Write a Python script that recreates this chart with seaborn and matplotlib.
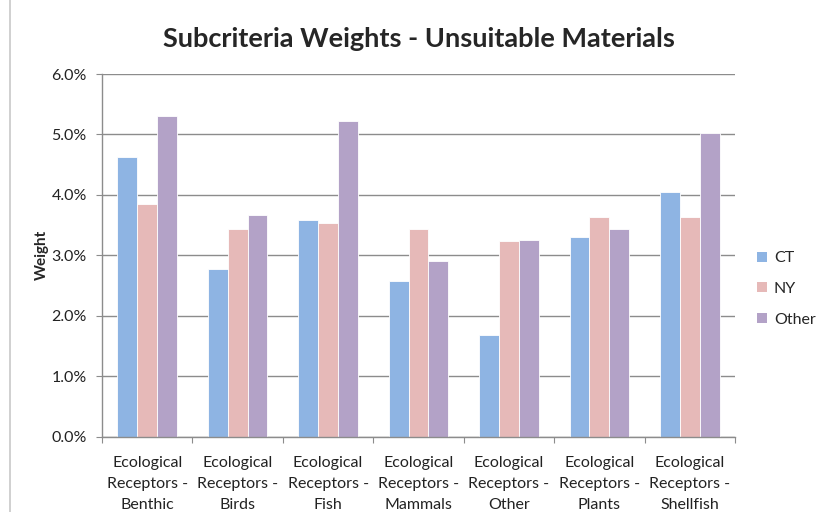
import matplotlib
matplotlib.use("Agg")
import matplotlib.pyplot as plt
from matplotlib.ticker import FuncFormatter, FixedLocator
from matplotlib.patches import Patch
import seaborn as sns
import pandas as pd

categories = [
    "Ecological\nReceptors -\nBenthic",
    "Ecological\nReceptors -\nBirds",
    "Ecological\nReceptors -\nFish",
    "Ecological\nReceptors -\nMammals",
    "Ecological\nReceptors -\nOther",
    "Ecological\nReceptors -\nPlants",
    "Ecological\nReceptors -\nShellfish",
]
series = ["CT", "NY", "Other"]
ct = [4.63, 2.77, 3.59, 2.57, 1.68, 3.31, 4.05]
ny = [3.85, 3.44, 3.54, 3.44, 3.23, 3.64, 3.64]
other = [5.31, 3.67, 5.23, 2.90, 3.26, 3.44, 5.02]
colors = ["#8EB4E3", "#E6B9B8", "#B3A2C7"]

df = pd.DataFrame({
    "category": categories * 3,
    "series": [s for s in series for _ in categories],
    "weight": ct + ny + other,
})

sns.set_style("white")
plt.rcParams["font.family"] = ["Lato", "DejaVu Sans"]

W, H = 816, 512
fig = plt.figure(figsize=(W / 100, H / 100), dpi=100)
ax = fig.add_axes([102 / W, 1 - 436.7 / H, 633 / W, 362.7 / H])

sns.barplot(data=df, x="category", y="weight", hue="series",
            palette=colors, width=0.66, ax=ax, legend=False,
            edgecolor="white", linewidth=0.6, saturation=1)

ax.set_ylim(0, 6)
ax.set_xlim(-0.5, len(categories) - 0.5)
ax.set_yticks([0, 1, 2, 3, 4, 5, 6])
ax.yaxis.set_major_formatter(FuncFormatter(lambda v, p: f"{v:.1f}%"))
ax.yaxis.grid(True, color="#8C8C8C", linewidth=1)
ax.set_axisbelow(True)

for side in ["top", "right"]:
    ax.spines[side].set_visible(False)
for side in ["left", "bottom"]:
    ax.spines[side].set_color("#8C8C8C")
    ax.spines[side].set_linewidth(1)

# Category ticks sit at group boundaries
ax.xaxis.set_major_locator(FixedLocator([i - 0.5 for i in range(len(categories) + 1)]))
ax.set_xticklabels([])
ax.xaxis.set_minor_locator(FixedLocator(list(range(len(categories)))))
ax.set_xticks(range(len(categories)), categories, minor=True)
ax.tick_params(axis="x", which="major", direction="out", length=4, color="#8C8C8C", bottom=True)
ax.tick_params(axis="x", which="minor", length=0, labelsize=11.5, pad=14, colors="#222222")
for lbl in ax.get_xticklabels(minor=True):
    lbl.set_linespacing(1.62)
ax.tick_params(axis="y", direction="out", length=4, color="#8C8C8C", left=True,
               labelsize=11.5, labelcolor="#222222", pad=7)

ax.set_xlabel("")
ax.set_ylabel("Weight", fontsize=11, fontweight="bold", labelpad=2)

fig.text(0.514, 1 - 39 / H, "Subcriteria Weights - Unsuitable Materials",
         ha="center", va="center", fontsize=19.5, fontweight="bold")

handles = [Patch(facecolor=c, edgecolor="none") for c in colors]
fig.legend(handles, series, loc="center left", bbox_to_anchor=(757 / W, 1 - 289 / H),
           frameon=False, fontsize=11.5, handlelength=0.6, handleheight=0.6,
           handletextpad=0.45, labelspacing=1.05, borderaxespad=0, borderpad=0)

# Chart frame edge on the left
fig.add_artist(plt.Line2D([10 / W, 10 / W], [0, 1], color="#C8C8C8", linewidth=1.2,
                          transform=fig.transFigure))

fig.savefig("out.png", dpi=100)
